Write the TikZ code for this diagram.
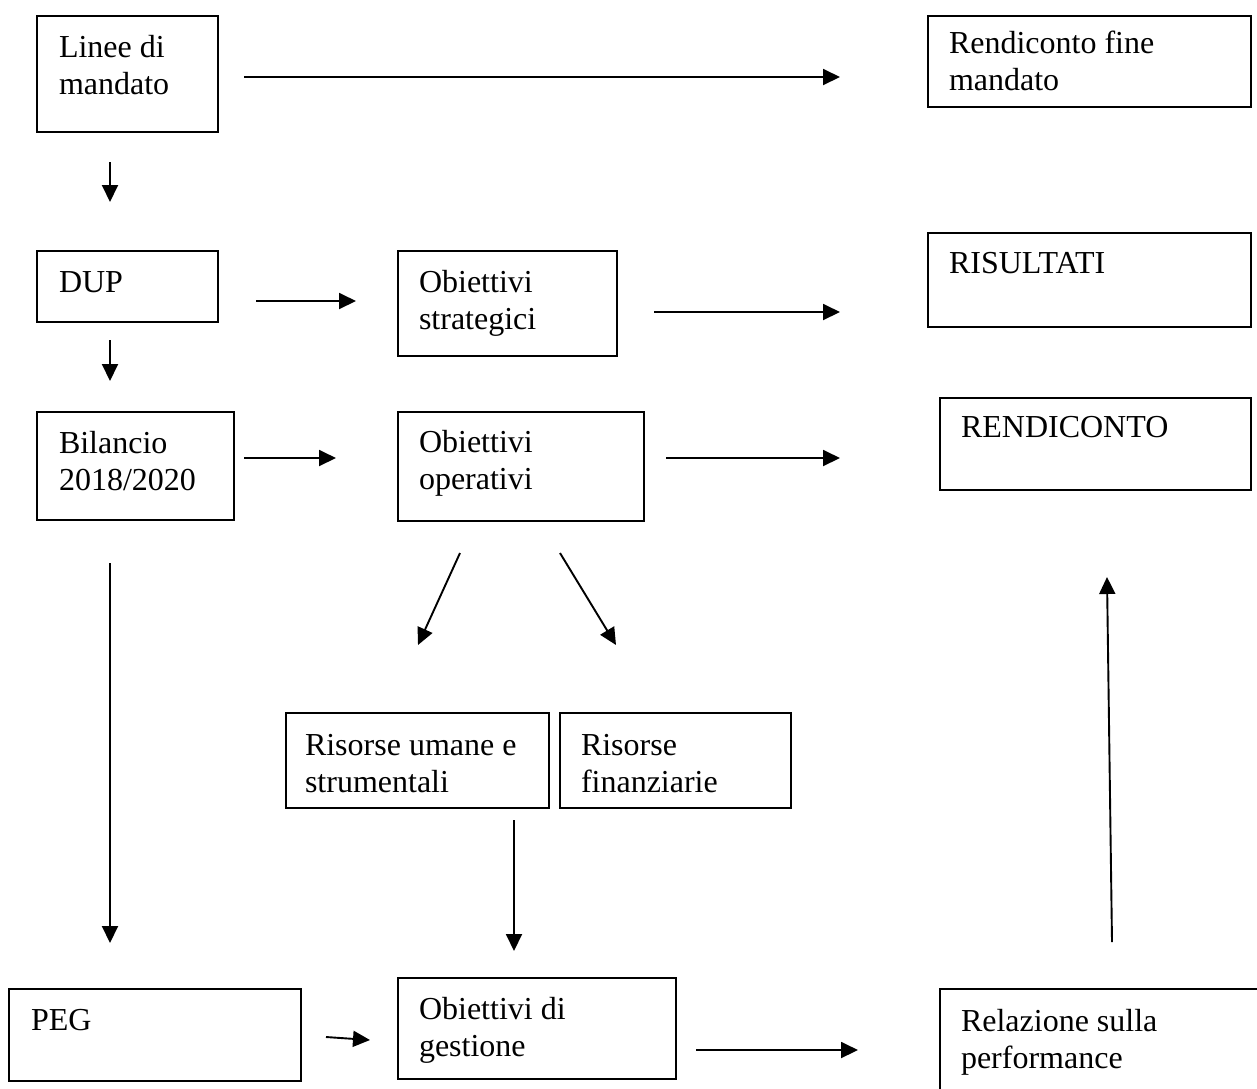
\documentclass[tikz,border=0pt]{standalone}
\usepackage{fontspec}
\setmainfont{Liberation Serif}
\usetikzlibrary{arrows.meta}
\newcommand{\mlines}[1]{\begin{tabular}[t]{@{}l@{}}#1\end{tabular}}
\begin{document}
\begin{tikzpicture}[x=1pt,y=-1pt,
  box/.style={draw, line width=1.8pt, inner sep=0pt, outer sep=0pt, anchor=north west},
  txt/.style={inner sep=0pt, outer sep=0pt, anchor=base west, font=\fontsize{32}{37}\selectfont},
  arr/.style={line width=1.9pt, -{Triangle[length=17pt,width=16pt]}}]
\useasboundingbox (0,0) rectangle (1257,1088);
\clip (0,0) rectangle (1257,1088);
% boxes
\node[box, minimum width=181pt, minimum height=116pt] (linee) at (37,16) {};
\node[box, minimum width=323pt, minimum height=91pt] (rendfine) at (928,16) {};
\node[box, minimum width=181pt, minimum height=71pt] (dup) at (37,251) {};
\node[box, minimum width=219pt, minimum height=105pt] (obstrat) at (398,251) {};
\node[box, minimum width=323pt, minimum height=94pt] (risultati) at (928,233) {};
\node[box, minimum width=197pt, minimum height=108pt] (bilancio) at (37,412) {};
\node[box, minimum width=246pt, minimum height=109pt] (obop) at (398,412) {};
\node[box, minimum width=311pt, minimum height=92pt] (rendiconto) at (940,398) {};
\node[box, minimum width=263pt, minimum height=95pt] (risum) at (286,713) {};
\node[box, minimum width=231pt, minimum height=95pt] (risfin) at (560,713) {};
\node[box, minimum width=292pt, minimum height=92pt] (peg) at (9,989) {};
\node[box, minimum width=278pt, minimum height=101pt] (obgest) at (398,978) {};
\node[box, minimum width=340pt, minimum height=121pt] (relaz) at (940,989) {};
% texts
\node[txt] (tlinee) at (59,57) {\mlines{Linee di\\mandato}};
\node[txt] (trendfine) at (949,53) {\mlines{Rendiconto fine\\mandato}};
\node[txt] (tdup) at (59,292) {DUP};
\node[txt] (tobstrat) at (419,292) {\mlines{Obiettivi\\strategici}};
\node[txt] (trisultati) at (949,273) {RISULTATI};
\node[txt] (tbilancio) at (59,453) {\mlines{Bilancio\\2018/2020}};
\node[txt] (tobop) at (419,452) {\mlines{Obiettivi\\operativi}};
\node[txt] (trendiconto) at (961,437) {RENDICONTO};
\node[txt] (trisum) at (305,755) {\mlines{Risorse umane e\\strumentali}};
\node[txt] (trisfin) at (581,755) {\mlines{Risorse\\finanziarie}};
\node[txt] (tpeg) at (31,1030) {PEG};
\node[txt] (tobgest) at (419,1019) {\mlines{Obiettivi di\\gestione}};
\node[txt] (trelaz) at (961,1031) {\mlines{Relazione sulla\\performance}};
% arrow end points
\coordinate (a1s) at (244,77);   \coordinate (a1e) at (840,77);
\coordinate (a2s) at (110,162);  \coordinate (a2e) at (110,202);
\coordinate (a3s) at (256,301);  \coordinate (a3e) at (356,301);
\coordinate (a4s) at (654,312);  \coordinate (a4e) at (840,312);
\coordinate (a5s) at (110,340);  \coordinate (a5e) at (110,381);
\coordinate (a6s) at (244,458);  \coordinate (a6e) at (336,458);
\coordinate (a7s) at (666,458);  \coordinate (a7e) at (840,458);
\coordinate (a8s) at (110,563);  \coordinate (a8e) at (110,943);
\coordinate (a9s) at (460,553);  \coordinate (a9e) at (418,645);
\coordinate (a10s) at (560,553); \coordinate (a10e) at (616,645);
\coordinate (a11s) at (514,820); \coordinate (a11e) at (514,951);
\coordinate (a12s) at (326,1037); \coordinate (a12e) at (370,1040);
\coordinate (a13s) at (696,1050); \coordinate (a13e) at (858,1050);
\coordinate (a14s) at (1112,942); \coordinate (a14e) at (1107,577);
% arrows
\draw[arr] (a1s) -- (a1e);
\draw[arr] (a2s) -- (a2e);
\draw[arr] (a3s) -- (a3e);
\draw[arr] (a4s) -- (a4e);
\draw[arr] (a5s) -- (a5e);
\draw[arr] (a6s) -- (a6e);
\draw[arr] (a7s) -- (a7e);
\draw[arr] (a8s) -- (a8e);
\draw[arr] (a9s) -- (a9e);
\draw[arr] (a10s) -- (a10e);
\draw[arr] (a11s) -- (a11e);
\draw[arr] (a12s) -- (a12e);
\draw[arr] (a13s) -- (a13e);
\draw[arr] (a14s) -- (a14e);
\end{tikzpicture}
\end{document}
